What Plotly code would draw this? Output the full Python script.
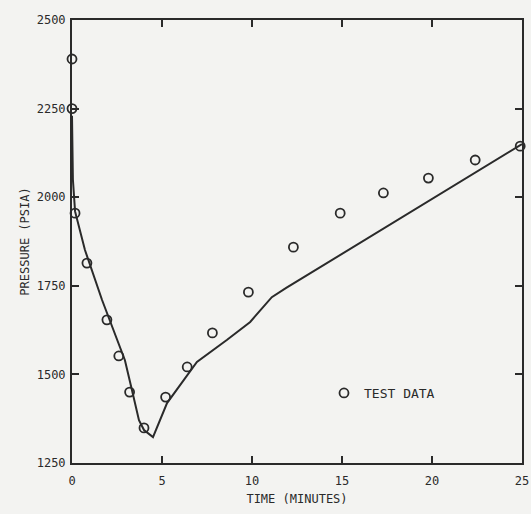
import plotly.graph_objects as go

# Test data (time in minutes, pressure in psia)
test_time = [0.0, 0.0, 0.17, 0.83, 1.94, 2.6, 3.2, 4.0, 5.2, 6.4, 7.8, 9.8, 12.3, 14.9, 17.3, 19.8, 22.4, 24.9]
test_pressure = [2390, 2250, 1955, 1814, 1654, 1552, 1450, 1349, 1436, 1521, 1617, 1732, 1859, 1955, 2012, 2054, 2105, 2144]

# Calculated curve
calc_time = [0.0, 0.05, 0.17, 0.72, 1.67, 2.5, 2.94, 3.33, 3.72, 4.0, 4.5, 5.28, 6.94, 8.6, 9.9, 11.1, 11.9, 25.0]
calc_pressure = [2230, 2050, 1960, 1851, 1710, 1597, 1540, 1456, 1371, 1343, 1323, 1419, 1535, 1597, 1648, 1718, 1744, 2150]

x_ticks = [0, 5, 10, 15, 20, 25]
y_ticks = [1250, 1500, 1750, 2000, 2250, 2500]

ink = "#2a2a2a"
font = dict(family="DejaVu Sans Mono, DejaVu Sans", size=12, color=ink)

fig = go.Figure()
fig.add_trace(go.Scatter(x=calc_time, y=calc_pressure, mode="lines",
                         line=dict(color=ink, width=2), showlegend=False,
                         cliponaxis=True))
fig.add_trace(go.Scatter(x=test_time, y=test_pressure, mode="markers",
                         name="TEST DATA",
                         marker=dict(symbol="circle-open", size=9, color=ink,
                                     line=dict(width=1.8, color=ink)),
                         cliponaxis=False))

axis_common = dict(showgrid=False, zeroline=False, showline=True, linecolor=ink,
                   linewidth=2, ticks="inside", ticklen=7, tickwidth=1.5,
                   tickcolor=ink, mirror="ticks", tickfont=font, automargin=False)

fig.update_layout(
    width=531, height=514,
    margin=dict(l=72, r=9, t=20, b=51),
    paper_bgcolor="#f3f3f1", plot_bgcolor="#f3f3f1",
    font=font,
    xaxis=dict(range=[0, 25], tickvals=x_ticks, ticktext=[str(v) for v in x_ticks],
               ticklabelstandoff=6,
               title=dict(text="TIME (MINUTES)", font=dict(size=12, color=ink), standoff=7),
               **axis_common),
    yaxis=dict(range=[1250, 2500], tickvals=y_ticks, ticktext=[str(v) for v in y_ticks],
               ticklabelstandoff=2,
               title=dict(text="PRESSURE (PSIA)", font=dict(size=12, color=ink), standoff=4),
               **axis_common),
    legend=dict(x=0.56, y=0.158, xanchor="left", yanchor="middle",
                bgcolor="rgba(0,0,0,0)", borderwidth=0, itemwidth=30,
                font=dict(size=13, color=ink)),
)

fig.write_html("out.html")
